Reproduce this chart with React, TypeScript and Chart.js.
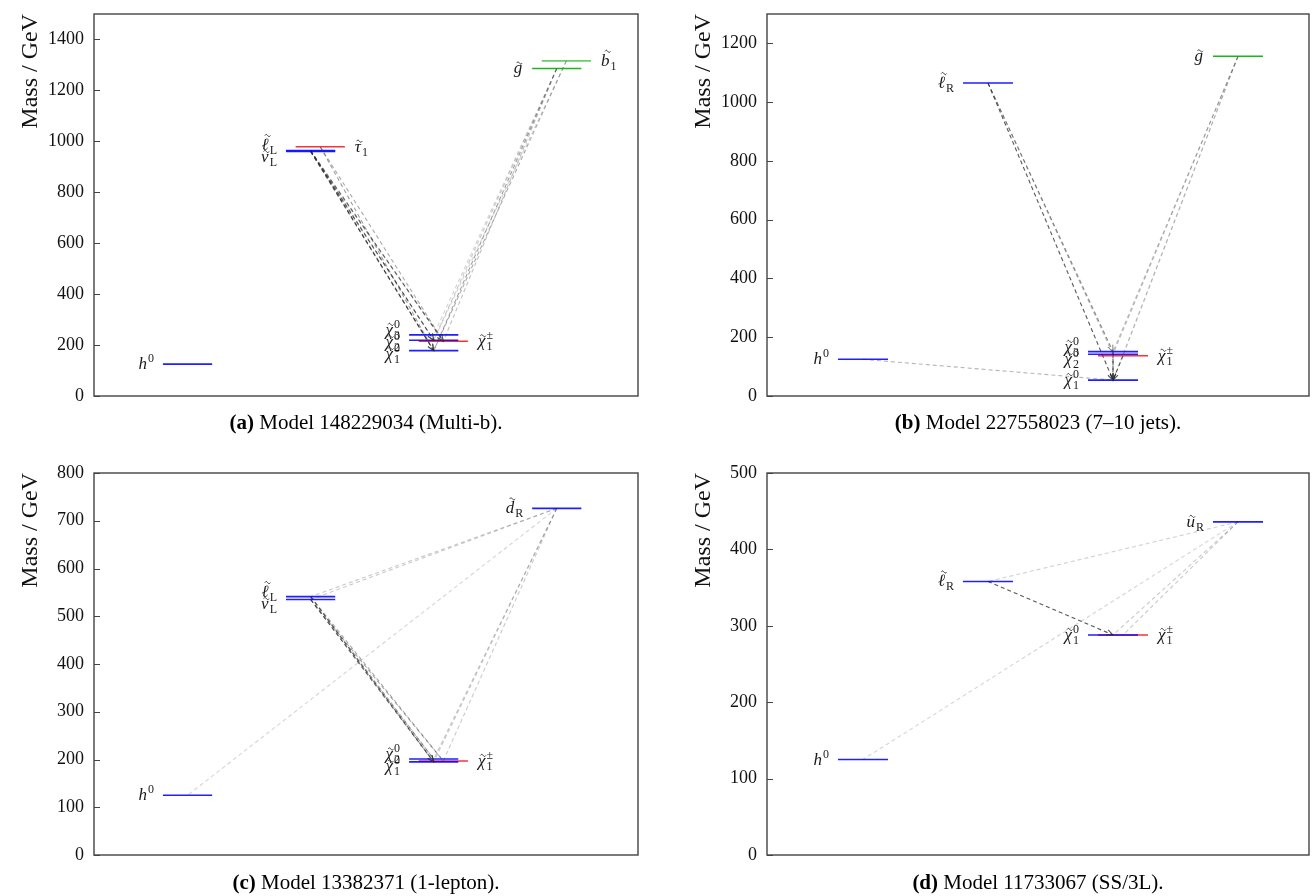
import React, { useEffect, useRef } from 'react';
import { Chart, registerables } from 'chart.js';

Chart.register(...registerables);

const FONT = "'Liberation Serif', 'DejaVu Serif', serif";

// ---------------- Panel (a) Model 148229034 (Multi-b)
const aParticles = ['h0', 'lL', 'nuL', 'tau1', 'N1', 'N2', 'N3', 'C1', 'g', 'b1'];
const aMasses = [125, 964, 960, 979, 178, 219, 240, 215, 1286, 1316];
const aColumns = [1, 2, 2, 2, 3, 3, 3, 3, 4, 4];
const aSlots = [0, 0, 0, 1, 0, 0, 0, 1, 0, 1];
const aDecayFrom = ['lL', 'lL', 'lL', 'nuL', 'nuL', 'nuL', 'tau1', 'tau1', 'g', 'g', 'g', 'g', 'b1', 'b1'];
const aDecayTo = ['N1', 'N2', 'C1', 'N1', 'N2', 'C1', 'N1', 'C1', 'N1', 'N2', 'N3', 'C1', 'N1', 'N2'];
const aDecayStrength = [0.75, 0.6, 0.55, 0.75, 0.6, 0.55, 0.45, 0.4, 0.45, 0.25, 0.2, 0.3, 0.4, 0.2];
const aTicks = [0, 200, 400, 600, 800, 1000, 1200, 1400];
const aMax = 1500;

// ---------------- Panel (b) Model 227558023 (7–10 jets)
const bParticles = ['h0', 'lR', 'N1', 'N2', 'N3', 'C1', 'g'];
const bMasses = [125, 1065, 54, 142, 151, 137, 1156];
const bColumns = [1, 2, 3, 3, 3, 3, 4];
const bSlots = [0, 0, 0, 0, 0, 1, 0];
const bDecayFrom = ['lR', 'lR', 'lR', 'N2', 'N3', 'C1', 'g', 'g', 'g', 'g', 'h0'];
const bDecayTo = ['N1', 'N3', 'N2', 'N1', 'N1', 'N1', 'N3', 'N2', 'C1', 'N1', 'N1'];
const bDecayStrength = [0.8, 0.55, 0.3, 0.8, 0.8, 0.8, 0.3, 0.3, 0.25, 0.2, 0.35];
const bTicks = [0, 200, 400, 600, 800, 1000, 1200];
const bMax = 1300;

// ---------------- Panel (c) Model 13382371 (1-lepton)
const cParticles = ['h0', 'lL', 'nuL', 'N1', 'N2', 'C1', 'dR'];
const cMasses = [125, 541, 535, 195, 201, 197, 726];
const cColumns = [1, 2, 2, 3, 3, 3, 4];
const cSlots = [0, 0, 0, 0, 0, 1, 0];
const cDecayFrom = ['lL', 'lL', 'lL', 'nuL', 'nuL', 'nuL', 'dR', 'dR', 'dR', 'dR', 'dR', 'dR'];
const cDecayTo = ['N1', 'N2', 'C1', 'N1', 'N2', 'C1', 'lL', 'nuL', 'N1', 'N2', 'C1', 'h0'];
const cDecayStrength = [0.7, 0.4, 0.4, 0.75, 0.4, 0.4, 0.25, 0.25, 0.25, 0.25, 0.25, 0.2];
const cTicks = [0, 100, 200, 300, 400, 500, 600, 700, 800];
const cMax = 800;

// ---------------- Panel (d) Model 11733067 (SS/3L)
const dParticles = ['h0', 'lR', 'N1', 'C1', 'uR'];
const dMasses = [125, 358, 288, 288, 436];
const dColumns = [1, 2, 3, 3, 4];
const dSlots = [0, 0, 0, 1, 0];
const dDecayFrom = ['lR', 'uR', 'uR', 'uR', 'uR'];
const dDecayTo = ['N1', 'lR', 'N1', 'C1', 'h0'];
const dDecayStrength = [0.8, 0.22, 0.25, 0.25, 0.2];
const dTicks = [0, 100, 200, 300, 400, 500];
const dMax = 500;

const CAPTION_TAGS = ['(a)', '(b)', '(c)', '(d)'];
const CAPTION_TEXTS = [
  'Model 148229034 (Multi-b).',
  'Model 227558023 (7–10 jets).',
  'Model 13382371 (1-lepton).',
  'Model 11733067 (SS/3L).',
];

// ---------------- styles
const LABELS: Record<string, { base: string; sub?: string; sup?: string; tall?: boolean; noTilde?: boolean }> = {
  h0: { base: 'h', sup: '0', noTilde: true },
  lL: { base: 'ℓ', sub: 'L', tall: true },
  lR: { base: 'ℓ', sub: 'R', tall: true },
  nuL: { base: 'ν', sub: 'L' },
  tau1: { base: 'τ', sub: '1' },
  N1: { base: 'χ', sub: '1', sup: '0' },
  N2: { base: 'χ', sub: '2', sup: '0' },
  N3: { base: 'χ', sub: '3', sup: '0' },
  C1: { base: 'χ', sub: '1', sup: '±' },
  g: { base: 'g' },
  b1: { base: 'b', sub: '1', tall: true },
  dR: { base: 'd', sub: 'R', tall: true },
  uR: { base: 'u', sub: 'R' },
};

const BLUE = 'rgba(0,0,255,0.88)';
const RED = 'rgba(245,0,0,0.8)';
const COLORS: Record<string, string> = {
  h0: BLUE, lL: BLUE, lR: BLUE, nuL: BLUE, tau1: RED, N1: BLUE, N2: BLUE, N3: BLUE,
  C1: RED, g: 'rgba(0,175,0,0.9)', b1: 'rgba(0,175,0,0.6)', dR: BLUE, uR: BLUE,
};

type Panel = {
  particles: string[]; masses: number[]; columns: number[]; slots: number[];
  from: string[]; to: string[]; strength: number[]; ticks: number[]; max: number;
};

const PANELS: Panel[] = [
  { particles: aParticles, masses: aMasses, columns: aColumns, slots: aSlots, from: aDecayFrom, to: aDecayTo, strength: aDecayStrength, ticks: aTicks, max: aMax },
  { particles: bParticles, masses: bMasses, columns: bColumns, slots: bSlots, from: bDecayFrom, to: bDecayTo, strength: bDecayStrength, ticks: bTicks, max: bMax },
  { particles: cParticles, masses: cMasses, columns: cColumns, slots: cSlots, from: cDecayFrom, to: cDecayTo, strength: cDecayStrength, ticks: cTicks, max: cMax },
  { particles: dParticles, masses: dMasses, columns: dColumns, slots: dSlots, from: dDecayFrom, to: dDecayTo, strength: dDecayStrength, ticks: dTicks, max: dMax },
];

// layout (page pixels)
const GEOM = [
  { left: 0, top: 0, width: 652, height: 410, padRight: 14, xMin: 0.24, xMax: 4.66, slot: 0.078 },
  { left: 673, top: 0, width: 639, height: 410, padRight: 3, xMin: 0.232, xMax: 4.568, slot: 0.08 },
  { left: 0, top: 459, width: 652, height: 410, padRight: 14, xMin: 0.24, xMax: 4.66, slot: 0.078 },
  { left: 673, top: 459, width: 639, height: 410, padRight: 3, xMin: 0.232, xMax: 4.568, slot: 0.08 },
];
const HALF = 0.2;

function spread(items: { y: number; i: number }[], gap: number) {
  const sorted = [...items].sort((a, b) => a.y - b.y);
  let blocks = sorted.map((it) => ({ members: [it], center: it.y }));
  let merged = true;
  while (merged) {
    merged = false;
    for (let k = 0; k < blocks.length - 1; k++) {
      const A = blocks[k];
      const B = blocks[k + 1];
      const aEnd = A.center + ((A.members.length - 1) * gap) / 2;
      const bStart = B.center - ((B.members.length - 1) * gap) / 2;
      if (bStart - aEnd < gap) {
        const members = A.members.concat(B.members);
        const center = members.reduce((s, m) => s + m.y, 0) / members.length;
        blocks.splice(k, 2, { members, center });
        merged = true;
        break;
      }
    }
  }
  const out = new Map<number, number>();
  blocks.forEach((b) =>
    b.members.forEach((m, j) => out.set(m.i, b.center + (j - (b.members.length - 1) / 2) * gap)),
  );
  return out;
}

function drawTilde(ctx: CanvasRenderingContext2D, cx: number, cy: number, w: number) {
  ctx.beginPath();
  for (let s = 0; s <= 16; s++) {
    const t = s / 16;
    const x = cx - w / 2 + w * t;
    const y = cy - 1.1 * Math.sin(2 * Math.PI * t);
    if (s === 0) ctx.moveTo(x, y);
    else ctx.lineTo(x, y);
  }
  ctx.stroke();
}

function drawLabel(ctx: CanvasRenderingContext2D, key: string, anchorX: number, y: number, side: 'left' | 'right') {
  const spec = LABELS[key];
  const baseFont = `italic 17px ${FONT}`;
  const smallFont = `12px ${FONT}`;
  ctx.font = baseFont;
  const bw = ctx.measureText(spec.base).width;
  ctx.font = smallFont;
  const sw = Math.max(spec.sub ? ctx.measureText(spec.sub).width : 0, spec.sup ? ctx.measureText(spec.sup).width : 0);
  const total = bw + 1 + sw;
  const x0 = side === 'left' ? anchorX - total : anchorX;
  const baseline = y + 5;
  ctx.fillStyle = '#1a1a1a';
  ctx.strokeStyle = '#1a1a1a';
  ctx.lineWidth = 0.9;
  ctx.textBaseline = 'alphabetic';
  ctx.textAlign = 'left';
  ctx.font = baseFont;
  ctx.fillText(spec.base, x0, baseline);
  if (!spec.noTilde) {
    if (spec.tall) drawTilde(ctx, x0 + bw / 2 + 2.5, baseline - 14.5, 5.5);
    else drawTilde(ctx, x0 + bw / 2 + 1.5, baseline - 10.5, 5.5);
  }
  ctx.font = smallFont;
  if (spec.sup) ctx.fillText(spec.sup, x0 + bw + 1, baseline - 7);
  if (spec.sub) ctx.fillText(spec.sub, x0 + bw + 1, baseline + 4);
}

function SpectrumChart({ index }: { index: number }) {
  const ref = useRef<HTMLCanvasElement>(null);
  const p = PANELS[index];
  const g = GEOM[index];

  useEffect(() => {
    if (!ref.current) return;
    const idx = (name: string) => p.particles.indexOf(name);
    const xOf = (i: number) => p.columns[i] + p.slots[i] * g.slot;

    const levelSets = p.particles.map((name, i) => ({
      label: name,
      data: [
        { x: xOf(i) - HALF, y: p.masses[i] },
        { x: xOf(i) + HALF, y: p.masses[i] },
      ],
      borderColor: COLORS[name],
      borderWidth: 1.6,
      pointRadius: 0,
      fill: false,
    }));
    const decaySets = p.from.map((f, k) => {
      const i = idx(f);
      const j = idx(p.to[k]);
      return {
        label: f + '-' + p.to[k],
        data: [
          { x: xOf(i), y: p.masses[i] },
          { x: xOf(j), y: p.masses[j] },
        ],
        borderColor: `rgba(45,45,45,${p.strength[k]})`,
        borderWidth: 1.1,
        borderDash: [4, 3],
        pointRadius: 0,
        fill: false,
      };
    });

    const overlay = {
      id: 'overlay' + index,
      afterDatasetsDraw(chart: any) {
        const ctx: CanvasRenderingContext2D = chart.ctx;
        const xs = chart.scales.x;
        const ys = chart.scales.y;
        p.from.forEach((f, k) => {
          if (p.strength[k] < 0.5) return;
          const i = idx(f);
          const j = idx(p.to[k]);
          const x1 = xs.getPixelForValue(xOf(i));
          const y1 = ys.getPixelForValue(p.masses[i]);
          const x2 = xs.getPixelForValue(xOf(j));
          const y2 = ys.getPixelForValue(p.masses[j]);
          const ang = Math.atan2(y2 - y1, x2 - x1);
          const L = 7;
          ctx.save();
          ctx.strokeStyle = `rgba(45,45,45,${p.strength[k]})`;
          ctx.lineWidth = 1.1;
          ctx.beginPath();
          ctx.moveTo(x2 - L * Math.cos(ang - 0.4), y2 - L * Math.sin(ang - 0.4));
          ctx.lineTo(x2, y2);
          ctx.lineTo(x2 - L * Math.cos(ang + 0.4), y2 - L * Math.sin(ang + 0.4));
          ctx.stroke();
          ctx.restore();
        });
        const groups = new Map<string, { y: number; i: number }[]>();
        p.particles.forEach((name, i) => {
          const key = p.columns[i] + '-' + p.slots[i];
          if (!groups.has(key)) groups.set(key, []);
          groups.get(key)!.push({ y: ys.getPixelForValue(p.masses[i]), i });
        });
        ctx.save();
        groups.forEach((items) => {
          const pos = spread(items, 12);
          items.forEach(({ i }) => {
            const side = p.slots[i] === 0 ? 'left' : 'right';
            const xl = xs.getPixelForValue(xOf(i) - HALF) - 9;
            const xr = xs.getPixelForValue(xOf(i) + HALF) + 10;
            drawLabel(ctx, p.particles[i], side === 'left' ? xl : xr, pos.get(i)!, side);
          });
        });
        ctx.restore();
      },
      afterDraw(chart: any) {
        const ctx: CanvasRenderingContext2D = chart.ctx;
        const { left, right, top, bottom } = chart.chartArea;
        const ys = chart.scales.y;
        ctx.save();
        ctx.strokeStyle = '#444';
        ctx.lineWidth = 1;
        p.ticks.forEach((v) => {
          const y = Math.round(ys.getPixelForValue(v)) + 0.5;
          ctx.beginPath();
          ctx.moveTo(left, y);
          ctx.lineTo(left + 6, y);
          ctx.stroke();
        });
        ctx.lineWidth = 1.4;
        ctx.strokeRect(left, top, right - left, bottom - top);
        ctx.restore();
      },
    };

    const chart = new Chart(ref.current, {
      type: 'line',
      data: { datasets: [...levelSets, ...decaySets] as any },
      options: {
        responsive: false,
        animation: false,
        devicePixelRatio: 1,
        events: [],
        layout: { padding: { left: 0, top: 14, right: g.padRight, bottom: 14 } },
        plugins: { legend: { display: false }, tooltip: { enabled: false } },
        scales: {
          x: { type: 'linear', min: g.xMin, max: g.xMax, display: false },
          y: {
            type: 'linear',
            min: 0,
            max: p.max,
            afterBuildTicks: (s: any) => {
              s.ticks = p.ticks.map((v) => ({ value: v }));
            },
            afterFit: (s: any) => {
              s.width = 94;
            },
            grid: { display: false, drawTicks: false },
            border: { display: false },
            ticks: {
              font: { family: FONT, size: 18, lineHeight: 0.3 },
              color: '#111',
              padding: 10,
              callback: (v: any) => String(v),
            },
            title: {
              display: true,
              text: 'Mass / GeV',
              align: 'end',
              color: '#111',
              font: { family: FONT, size: 24 },
              padding: { top: 16, bottom: 0 },
            },
          },
        },
      } as any,
      plugins: [overlay],
    });
    return () => chart.destroy();
  }, []);

  return (
    <canvas
      ref={ref}
      width={g.width}
      height={g.height}
      style={{ position: 'absolute', left: g.left, top: g.top, width: g.width, height: g.height }}
    />
  );
}

const CAPTION_POS = [
  { left: 94, top: 408, width: 544 },
  { left: 767, top: 408, width: 542 },
  { left: 94, top: 868, width: 544 },
  { left: 767, top: 868, width: 542 },
];

export default function App() {
  return (
    <div style={{ position: 'absolute', left: 0, top: 0, width: 1312, height: 896, background: '#fff' }}>
      {[0, 1, 2, 3].map((i) => (
        <SpectrumChart key={i} index={i} />
      ))}
      {CAPTION_POS.map((c, i) => (
        <div
          key={'c' + i}
          style={{
            position: 'absolute',
            left: c.left,
            top: c.top,
            width: c.width,
            textAlign: 'center',
            fontFamily: FONT,
            fontSize: 21,
            lineHeight: '28px',
            color: '#000',
            whiteSpace: 'nowrap',
          }}
        >
          <b>{CAPTION_TAGS[i]}</b> {CAPTION_TEXTS[i]}
        </div>
      ))}
    </div>
  );
}
